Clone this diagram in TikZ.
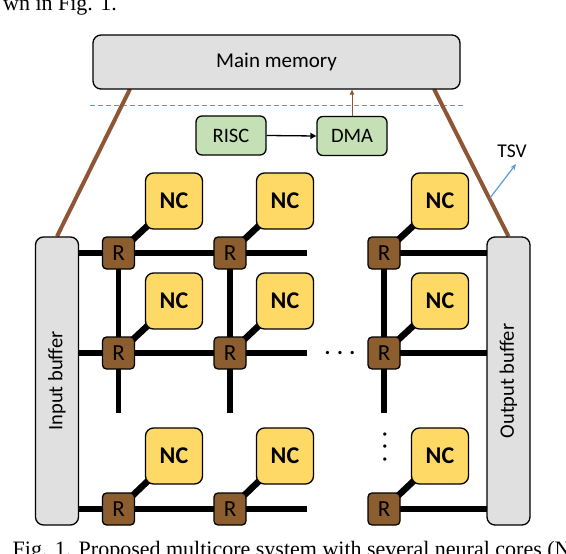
\documentclass[tikz,border=0pt]{standalone}
\usepackage{fontspec}
\setmainfont{Carlito}
\newfontfamily\capfont{Liberation Serif}
\usetikzlibrary{backgrounds,arrows.meta}
\definecolor{memgray}{HTML}{E0E0E0}
\definecolor{riscgreen}{HTML}{C5E0B4}
\definecolor{ncyellow}{HTML}{FFD966}
\definecolor{rbrown}{HTML}{8C5D2E}
\definecolor{lbrown}{HTML}{8E5634}
\definecolor{tsvblue}{HTML}{5B9BD5}
\begin{document}
\begin{tikzpicture}[x=1pt,y=-1pt,
 box/.style={draw=black, line width=1.3pt, rounded corners=8pt, inner sep=0pt},
 membox/.style={box, fill=memgray, minimum width=367pt, minimum height=54pt, font=\fontsize{21}{21}\selectfont},
 ctrlbox/.style={box, fill=riscgreen, minimum width=70pt, minimum height=39pt, rounded corners=6pt, font=\fontsize{20.5}{20.5}\selectfont},
 bufbox/.style={box, fill=memgray, minimum width=288pt, minimum height=43pt, rotate=90, font=\fontsize{20.5}{20.5}\selectfont},
 ncbox/.style={box, fill=ncyellow, minimum width=57pt, minimum height=56pt, font=\fontsize{24}{24}\selectfont\bfseries},
 rbox/.style={box, fill=rbrown, minimum width=32pt, minimum height=32pt, rounded corners=4pt, font=\fontsize{23}{23}\selectfont},
 mesh/.style={line width=6.5pt},
 vmesh/.style={line width=5.5pt},
 link/.style={line width=6.5pt},
 tsvline/.style={draw=lbrown, line width=4pt},
 dotsnode/.style={inner sep=0pt, font=\fontsize{22}{22}\selectfont\bfseries},
 captext/.style={inner sep=0pt, font=\capfont\fontsize{22}{22}\selectfont}
]
\useasboundingbox (0,0) rectangle (566,554);
\clip (0,0) rectangle (566,554);

% surrounding text of the page
\node[captext, anchor=base east] (toptext) at (117,10) {wn in Fig. 1.};
\node[captext, anchor=base west] (caption) at (12.5,556) {Fig. 1. Proposed multicore system with several neural cores (N};

% memory and controllers
\node[membox] (mem) at (276.5,62) {Main memory};
\node[ctrlbox] (risc) at (231,135.5) {RISC};
\node[ctrlbox] (dma) at (352,136) {DMA};

% buffers
\node[bufbox] (inbuf) at (57,381) {Input buffer};
\node[bufbox] (outbuf) at (508.5,381) {Output buffer};

% routers
\foreach \r/\y in {1/253,2/353,3/509}{
  \foreach \c/\x in {1/118.5,2/230,3/384}{
    \node[rbox] (r\r\c) at (\x,\y) {R};
  }
}
% neural cores
\foreach \r/\y in {1/201,2/301,3/456}{
  \foreach \c/\x in {1/174,2/285,3/440}{
    \node[ncbox] (n\r\c) at (\x,\y) {NC};
  }
}

% free ends
\coordinate (e1) at (307,253);
\coordinate (e2) at (307,353);
\coordinate (e3) at (307,509);
\coordinate (v1) at (118.5,413);
\coordinate (v2) at (230,413);
\coordinate (v3) at (384,413);
\coordinate (tl) at (130,89);
\coordinate (tr) at (434,89);
\coordinate (dl) at (90,105);
\coordinate (dr) at (464,105);
\coordinate (tsvfoot) at (490,198);
\coordinate (tsvtip) at (516,164);

\node[inner sep=0pt, font=\fontsize{19.5}{19.5}\selectfont] (tsvlab) at (512,151) {TSV};
\node[dotsnode] (hdots) at (340,353) {.\hspace{6.5pt}.\hspace{6.5pt}.};
\node[dotsnode, rotate=90] (vdots) at (385,447) {.\hspace{6.5pt}.\hspace{6.5pt}.};

\begin{scope}[on background layer]
  \foreach \r in {1,2,3}{
    \draw[mesh] (inbuf.center |- r\r1.center) -- (r\r1.center) -- (r\r2.center) -- (e\r);
    \draw[mesh] (r\r3.center) -- (outbuf.center |- r\r3.center);
    \foreach \c in {1,2,3}{
      \draw[link] (r\r\c.center) -- (n\r\c.center);
    }
  }
  \foreach \c in {1,2,3}{
    \draw[vmesh] (r1\c.center) -- (r2\c.center) -- (v\c);
  }
  \draw[tsvblue, line width=0.9pt, dash pattern=on 5pt off 3pt] (dl) -- (dr);
  \draw[tsvline] (tl) -- (inbuf.east);
  \draw[tsvline] (tr) -- (outbuf.east);
\end{scope}

\draw[black, line width=1.3pt, -{Triangle[length=6pt,width=6pt]}] (risc.east) -- (dma.west);
\draw[lbrown, line width=1pt, -{Triangle[length=5pt,width=4.5pt]}] (dma.north) -- (dma.north |- mem.south);
\draw[tsvblue, line width=1.2pt, -{Stealth[length=6pt,width=5pt]}] (tsvfoot) -- (tsvtip);
\end{tikzpicture}
\end{document}
